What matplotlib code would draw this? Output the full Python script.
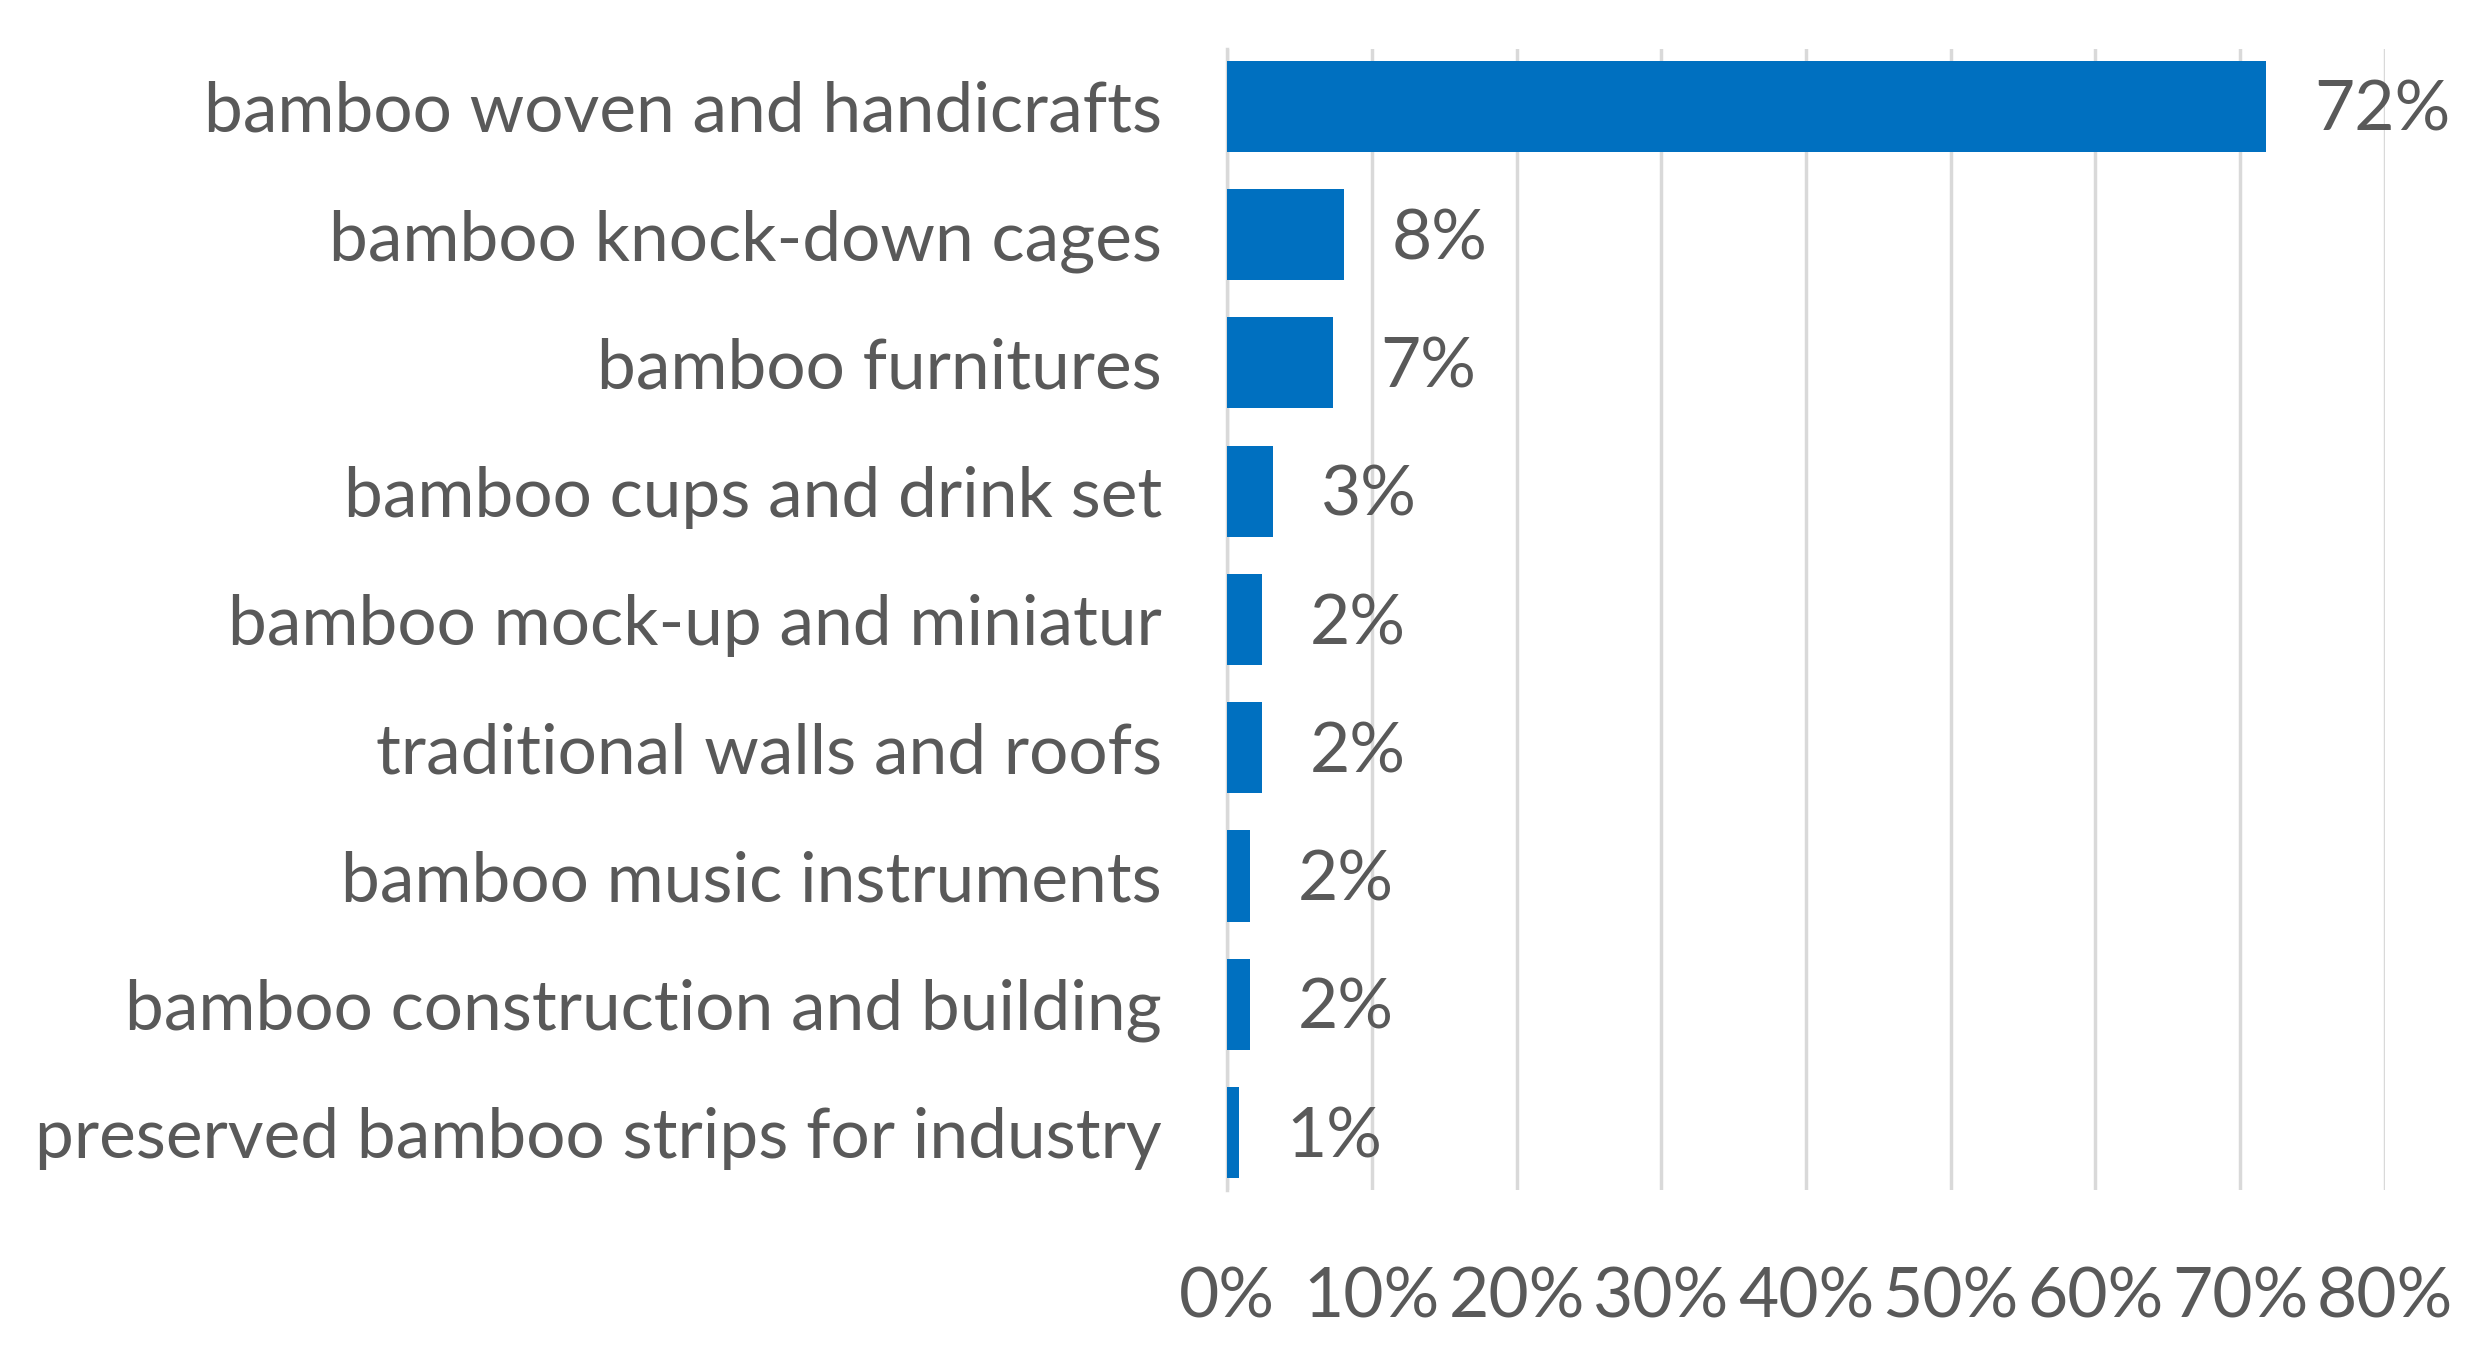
import matplotlib
matplotlib.use("Agg")
import matplotlib.pyplot as plt
from matplotlib.ticker import FuncFormatter

categories = [
    "bamboo woven and handicrafts",
    "bamboo knock-down cages",
    "bamboo furnitures",
    "bamboo cups and drink set",
    "bamboo mock-up and miniatur",
    "traditional walls and roofs",
    "bamboo music instruments",
    "bamboo construction and building",
    "preserved bamboo strips for industry",
]
values = [71.8, 8.1, 7.3, 3.2, 2.4, 2.4, 1.6, 1.6, 0.8]
x_ticks = [0, 10, 20, 30, 40, 50, 60, 70, 80]

plt.rcParams['font.family'] = ['Lato', 'DejaVu Sans']
text_color = "#595959"
bar_color = "#0070C0"
grid_color = "#D9D9D9"

fig = plt.figure(figsize=(24.74, 13.51), dpi=100)
ax = fig.add_axes([0.496, 0.119, 0.468, 0.845])

y = list(range(len(categories)))
ax.barh(y, values, height=0.71, color=bar_color, zorder=3)

for yi, v in zip(y, values):
    ax.text(v + 3.3, yi + 0.04, f"{round(v)}%", va="center", ha="left",
            fontsize=50, color=text_color)

ax.set_xlim(0, 80)
ax.set_ylim(len(categories) - 0.55, -0.45)
ax.set_xticks(x_ticks)
ax.xaxis.set_major_formatter(FuncFormatter(lambda v, p: f"{int(v)}%"))
ax.set_yticks(y)
ax.set_yticklabels(categories)

ax.grid(axis="x", color=grid_color, linewidth=2.5, zorder=0)
ax.tick_params(axis="x", length=0, pad=55, labelsize=50, labelcolor=text_color)
ax.tick_params(axis="y", length=0, pad=47, labelsize=50, labelcolor=text_color)
for s in ["top", "right", "bottom"]:
    ax.spines[s].set_visible(False)
ax.spines["left"].set_color(grid_color)
ax.spines["left"].set_linewidth(2.5)

fig.savefig("out.png", dpi=100, facecolor="white")
